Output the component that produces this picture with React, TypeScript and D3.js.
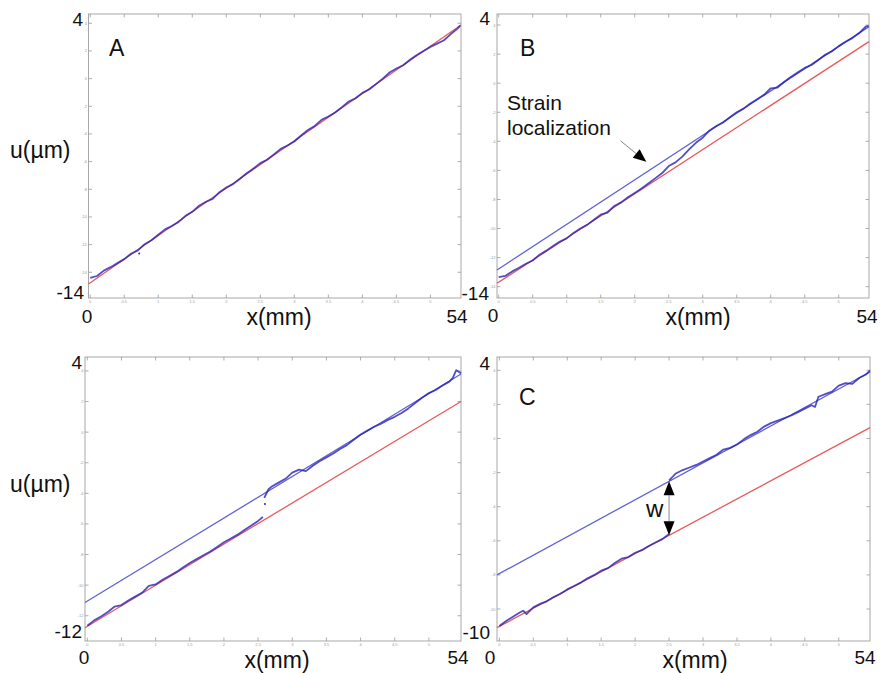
import React from 'react';
import * as d3 from 'd3';

// tick values (tiny MATLAB style labels)
const xTicks = [0, 0.5, 1, 1.5, 2, 2.5, 3, 3.5, 4, 4.5, 5];
const yTicksAB = [-14, -12, -10, -8, -6, -4, -2, 0, 2, 4];
const yTicksD = [-12, -10, -8, -6, -4, -2, 0, 2, 4];
const yTicksC = [-10, -8, -6, -4, -2, 0, 2, 4];

// panel A: measured displacement
const xA = [0, 0.1, 0.2, 0.3, 0.4, 0.5, 0.6, 0.7, 0.8, 0.9, 1, 1.1, 1.2, 1.3, 1.4, 1.5, 1.6, 1.7, 1.8, 1.9, 2, 2.1, 2.2, 2.3, 2.4, 2.5, 2.6, 2.7, 2.8, 2.9, 3, 3.1, 3.2, 3.3, 3.4, 3.5, 3.6, 3.7, 3.8, 3.9, 4, 4.1, 4.2, 4.3, 4.4, 4.5, 4.6, 4.7, 4.8, 4.9, 5, 5.1, 5.2, 5.3, 5.4, 5.44];
const uA = [-14.41, -14.27, -13.88, -13.63, -13.34, -13.05, -12.66, -12.42, -11.97, -11.68,
  -11.29, -10.9, -10.66, -10.36, -9.92, -9.63, -9.19, -8.9, -8.7, -8.21,
  -7.87, -7.63, -7.24, -6.84, -6.5, -6.11, -5.87, -5.48, -5.08, -4.84,
  -4.55, -4.11, -3.72, -3.42, -2.98, -2.74, -2.45, -2.06, -1.66, -1.42,
  -1.03, -0.79, -0.4, 0.0, 0.44, 0.73, 0.97, 1.36, 1.71, 2.0,
  2.29, 2.53, 2.77, 3.22, 3.61, 3.84];
const strayA = [[0.72, -12.65]];

// panel B
const xB = xA;
const uB = [-13.35, -13.25, -12.95, -12.7, -12.42, -12.2, -11.8, -11.52, -11.2, -10.9,
  -10.68, -10.3, -10.0, -9.75, -9.4, -9.05, -8.9, -8.45, -8.2, -7.85,
  -7.55, -7.25, -6.9, -6.55, -6.2, -5.7, -5.45, -5.05, -4.55, -4.1,
  -3.75, -3.25, -2.95, -2.7, -2.35, -2.0, -1.75, -1.4, -1.1, -0.8,
  -0.35, -0.3, 0.1, 0.45, 0.75, 1.05, 1.25, 1.6, 1.95, 2.2,
  2.55, 2.85, 3.1, 3.45, 3.9, 3.95];

// panel D (bottom left): two pieces separated by the jump
const xDLow = [0, 0.1, 0.2, 0.3, 0.4, 0.5, 0.6, 0.7, 0.8, 0.9, 1, 1.1, 1.2, 1.3, 1.4, 1.5, 1.6, 1.7, 1.8, 1.9, 2, 2.1, 2.2, 2.3, 2.4, 2.5, 2.57];
const uDLow = [-12.65, -12.3, -12.05, -11.75, -11.4, -11.3, -11.0, -10.75, -10.5, -10.05,
  -9.95, -9.65, -9.4, -9.15, -8.85, -8.55, -8.3, -8.05, -7.8, -7.5,
  -7.2, -6.95, -6.7, -6.4, -6.1, -5.8, -5.55];
const xDHigh = [2.59, 2.65, 2.7, 2.8, 2.9, 3, 3.1, 3.2, 3.3, 3.4, 3.5, 3.6, 3.7, 3.8, 3.9, 4, 4.1, 4.2, 4.3, 4.4, 4.5, 4.6, 4.7, 4.8, 4.9, 5, 5.1, 5.2, 5.3, 5.35, 5.4, 5.47];
const uDHigh = [-4.3, -3.75, -3.55, -3.3, -3.05, -2.65, -2.45, -2.55, -2.2, -1.9,
  -1.65, -1.4, -1.1, -0.85, -0.5, -0.15, 0.1, 0.35, 0.55, 0.8,
  1.0, 1.25, 1.55, 1.9, 2.25, 2.55, 2.75, 3.05, 3.3, 3.55, 4.05, 3.85];
const strayD = [[2.6, -4.7]];

// panel C
const xCLow = [0, 0.1, 0.2, 0.3, 0.35, 0.4, 0.5, 0.6, 0.7, 0.8, 0.9, 1, 1.1, 1.2, 1.3, 1.4, 1.5, 1.6, 1.7, 1.8, 1.9, 2, 2.1, 2.2, 2.3, 2.4, 2.5];
const uCLow = [-11.0, -10.7, -10.45, -10.2, -10.1, -10.3, -9.9, -9.7, -9.55, -9.3,
  -9.1, -8.85, -8.65, -8.45, -8.2, -8.0, -7.75, -7.6, -7.3, -7.05,
  -6.95, -6.7, -6.55, -6.3, -6.1, -5.9, -5.6];
const xCHigh = [2.5, 2.6, 2.7, 2.8, 2.9, 3, 3.1, 3.2, 3.3, 3.4, 3.5, 3.6, 3.7, 3.8, 3.9, 4, 4.1, 4.2, 4.3, 4.4, 4.5, 4.6, 4.65, 4.7, 4.8, 4.9, 5, 5.1, 5.2, 5.3, 5.4, 5.46];
const uCHigh = [-2.45, -2.05, -1.85, -1.7, -1.55, -1.35, -1.15, -0.95, -0.65, -0.55,
  -0.35, -0.05, 0.2, 0.4, 0.7, 0.9, 1.05, 1.2, 1.35, 1.55,
  1.75, 1.95, 1.85, 2.45, 2.6, 2.75, 3.1, 3.25, 3.2, 3.55, 3.75, 4.0];

// fitted straight lines [x0, u0, x1, u1]
const fitARed = [-0.025, -14.85, 5.45, 3.88];
const fitBRed = [-0.025, -13.77, 5.445, 2.86];
const fitBBlue = [-0.025, -12.85, 5.445, 3.89];
const fitDRed = [-0.034, -12.78, 5.47, 2.0];
const fitDBlue = [-0.034, -11.13, 5.47, 3.8];
const fitCRed = [-0.035, -11.09, 5.46, 0.64];
const fitCBlue = [-0.035, -8.0, 5.46, 3.9];

// annotations
const strainArrow = [1.79, -3.96, 2.17, -5.41]; // tail x,u -> tip x,u
const wArrow = [2.5, -2.51, -5.68]; // x, top u, bottom u

const RED = 'rgb(232,90,90)';
const BLUE_FIT = 'rgb(98,98,214)';
const BLUE_DATA = 'rgb(40,35,180)';
const FONT = "'Liberation Sans', Arial, Helvetica, sans-serif";

type Label = { text: string; x: number; y: number; size: number; anchor?: string };

type PanelCfg = {
  frame: [number, number, number, number];
  xDomain: [number, number];
  yDomain: [number, number];
  yTicks: number[];
  series: { xs: number[]; us: number[] }[];
  fits: { line: number[]; color: string }[];
  strays: number[][];
  labels: Label[];
  strain?: boolean;
  w?: boolean;
};

const panels: PanelCfg[] = [
  {
    frame: [88.5, 14, 461, 298],
    xDomain: [-0.025, 5.45],
    yDomain: [-15.86, 4.67],
    yTicks: yTicksAB,
    series: [{ xs: xA, us: uA }],
    fits: [{ line: fitARed, color: RED }],
    strays: strayA,
    labels: [
      { text: '4', x: 83, y: 26, size: 19, anchor: 'end' },
      { text: '-14', x: 84, y: 299, size: 19, anchor: 'end' },
      { text: '0', x: 87, y: 323, size: 19, anchor: 'middle' },
      { text: '54', x: 457, y: 323, size: 19, anchor: 'middle' },
      { text: 'x(mm)', x: 279, y: 325, size: 23, anchor: 'middle' },
      { text: 'u(µm)', x: 10, y: 158, size: 23 },
      { text: 'A', x: 109, y: 56, size: 23 },
    ],
  },
  {
    frame: [497, 14, 869, 298],
    xDomain: [-0.025, 5.445],
    yDomain: [-14.78, 4.76],
    yTicks: yTicksAB,
    series: [{ xs: xB, us: uB }],
    fits: [{ line: fitBRed, color: RED }, { line: fitBBlue, color: BLUE_FIT }],
    strays: [],
    labels: [
      { text: '4', x: 490, y: 25, size: 19, anchor: 'end' },
      { text: '-14', x: 489, y: 300, size: 19, anchor: 'end' },
      { text: '0', x: 493, y: 322, size: 19, anchor: 'middle' },
      { text: '54', x: 867, y: 323, size: 19, anchor: 'middle' },
      { text: 'x(mm)', x: 698, y: 325, size: 23, anchor: 'middle' },
      { text: 'B', x: 520, y: 56, size: 23 },
      { text: 'Strain', x: 507, y: 110, size: 21 },
      { text: 'localization', x: 507, y: 135, size: 21 },
    ],
    strain: true,
  },
  {
    frame: [85, 357, 461, 641],
    xDomain: [-0.034, 5.47],
    yDomain: [-13.65, 4.91],
    yTicks: yTicksD,
    series: [{ xs: xDLow, us: uDLow }, { xs: xDHigh, us: uDHigh }],
    fits: [{ line: fitDRed, color: RED }, { line: fitDBlue, color: BLUE_FIT }],
    strays: strayD,
    labels: [
      { text: '4', x: 82, y: 369, size: 19, anchor: 'end' },
      { text: '-12', x: 82, y: 638, size: 19, anchor: 'end' },
      { text: '0', x: 84, y: 664, size: 19, anchor: 'middle' },
      { text: '54', x: 458, y: 664, size: 19, anchor: 'middle' },
      { text: 'x(mm)', x: 277, y: 668, size: 23, anchor: 'middle' },
      { text: 'u(µm)', x: 10, y: 492, size: 23 },
    ],
  },
  {
    frame: [497, 357, 870, 641],
    xDomain: [-0.035, 5.46],
    yDomain: [-11.875, 4.78],
    yTicks: yTicksC,
    series: [{ xs: xCLow, us: uCLow }, { xs: xCHigh, us: uCHigh }],
    fits: [{ line: fitCRed, color: RED }, { line: fitCBlue, color: BLUE_FIT }],
    strays: [],
    labels: [
      { text: '4', x: 490, y: 370, size: 19, anchor: 'end' },
      { text: '-10', x: 490, y: 639, size: 19, anchor: 'end' },
      { text: '0', x: 490, y: 664, size: 19, anchor: 'middle' },
      { text: '54', x: 865, y: 664, size: 19, anchor: 'middle' },
      { text: 'x(mm)', x: 695, y: 668, size: 23, anchor: 'middle' },
      { text: 'C', x: 519, y: 405, size: 23 },
      { text: 'w', x: 646, y: 517, size: 24 },
    ],
    w: true,
  },
];

function Panel({ cfg }: { cfg: PanelCfg }) {
  const [l, t, r, b] = cfg.frame;
  const sx = d3.scaleLinear().domain(cfg.xDomain).range([l, r]);
  const sy = d3.scaleLinear().domain(cfg.yDomain).range([b, t]);
  const line = d3.line<[number, number]>().x(d => sx(d[0])).y(d => sy(d[1]));
  const tk = 3.5;

  const fitPath = (f: number[]) => line([[f[0], f[1]], [f[2], f[3]]]) || '';

  let strainEl = null;
  if (cfg.strain) {
    const x0 = sx(strainArrow[0]), y0 = sy(strainArrow[1]);
    const x1 = sx(strainArrow[2]), y1 = sy(strainArrow[3]);
    const ang = Math.atan2(y1 - y0, x1 - x0);
    const hl = 13, hw = 5.5;
    const bx = x1 - hl * Math.cos(ang), by = y1 - hl * Math.sin(ang);
    const px = -Math.sin(ang) * hw, py = Math.cos(ang) * hw;
    strainEl = (
      <g>
        <line x1={x0} y1={y0} x2={bx} y2={by} stroke="#666" strokeWidth={0.8} />
        <path d={`M${x1},${y1}L${bx + px},${by + py}L${bx - px},${by - py}Z`} fill="#000" />
      </g>
    );
  }

  let wEl = null;
  if (cfg.w) {
    const x = sx(wArrow[0]);
    const yt = sy(wArrow[1]);
    const yb = sy(wArrow[2]);
    const hl = 14, hw = 5.5;
    wEl = (
      <g>
        <line x1={x} y1={yt + hl} x2={x} y2={yb - hl} stroke="#888" strokeWidth={1} />
        <path d={`M${x},${yt}L${x - hw},${yt + hl}L${x + hw},${yt + hl}Z`} fill="#000" />
        <path d={`M${x},${yb}L${x - hw},${yb - hl}L${x + hw},${yb - hl}Z`} fill="#000" />
      </g>
    );
  }

  return (
    <g>
      <rect x={l} y={t} width={r - l} height={b - t} fill="#fff" stroke="#a8a8a8" strokeWidth={1} />
      {/* ticks all around */}
      {xTicks.map(v => (
        <g key={'x' + v}>
          <line x1={sx(v)} x2={sx(v)} y1={b} y2={b - tk} stroke="#999" strokeWidth={0.8} />
          <line x1={sx(v)} x2={sx(v)} y1={t} y2={t + tk} stroke="#999" strokeWidth={0.8} />
          <text x={sx(v)} y={b + 5} fontSize={4} fill="#999" textAnchor="middle" fontFamily={FONT}>{v}</text>
        </g>
      ))}
      {cfg.yTicks.map(v => (
        <g key={'y' + v}>
          <line x1={l} x2={l + tk} y1={sy(v)} y2={sy(v)} stroke="#999" strokeWidth={0.8} />
          <line x1={r} x2={r - tk} y1={sy(v)} y2={sy(v)} stroke="#999" strokeWidth={0.8} />
          <text x={l - 1.5} y={sy(v) + 1.5} fontSize={4} fill="#999" textAnchor="end" fontFamily={FONT}>{v}</text>
        </g>
      ))}
      {cfg.fits.map((f, i) => (
        <path key={'f' + i} d={fitPath(f.line)} fill="none" stroke={f.color} strokeWidth={1.3} />
      ))}
      {cfg.series.map((s, i) => (
        <path
          key={'s' + i}
          d={line(s.xs.map((x, j) => [x, s.us[j]] as [number, number])) || ''}
          fill="none"
          stroke={BLUE_DATA}
          strokeWidth={1.8}
          strokeOpacity={0.8}
          strokeLinejoin="round"
        />
      ))}
      {cfg.strays.map((p, i) => (
        <circle key={'p' + i} cx={sx(p[0])} cy={sy(p[1])} r={1} fill={BLUE_DATA} />
      ))}
      {strainEl}
      {wEl}
      {cfg.labels.map((lb, i) => (
        <text key={'l' + i} x={lb.x} y={lb.y} fontSize={lb.size} fontFamily={FONT} fill="#111"
          textAnchor={lb.anchor || 'start'}>{lb.text}</text>
      ))}
    </g>
  );
}

export default function App() {
  return (
    <div style={{ position: 'absolute', left: 0, top: 0 }}>
      <svg width={883} height={673} style={{ display: 'block', background: '#fff' }}>
        {panels.map((p, i) => <Panel key={i} cfg={p} />)}
      </svg>
    </div>
  );
}
